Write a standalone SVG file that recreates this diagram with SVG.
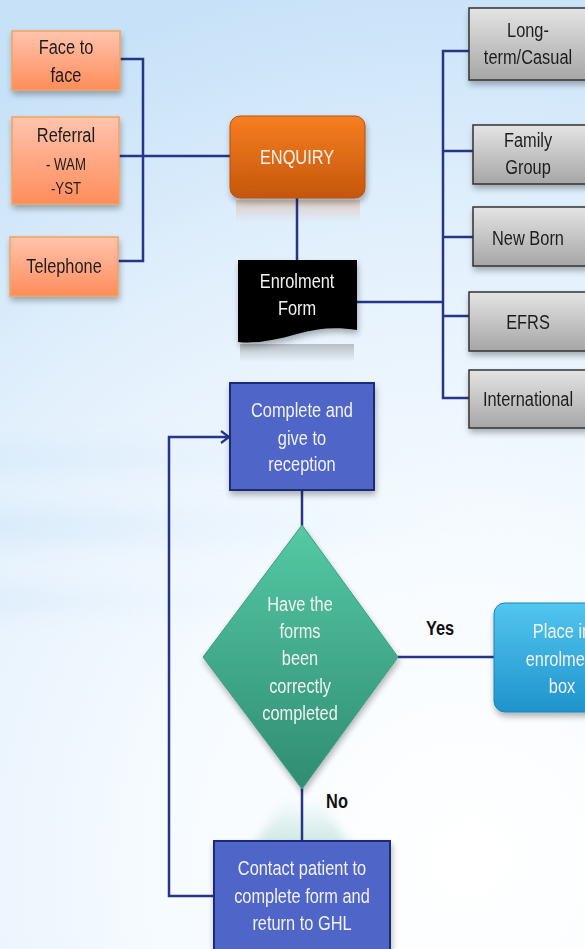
<svg xmlns="http://www.w3.org/2000/svg" width="585" height="949" viewBox="0 0 585 949">
  <defs>
    <radialGradient id="bg" cx="470" cy="860" r="900" gradientUnits="userSpaceOnUse">
      <stop offset="0" stop-color="#ffffff"/>
      <stop offset="0.35" stop-color="#f6fbff"/>
      <stop offset="0.7" stop-color="#e2f0fc"/>
      <stop offset="1" stop-color="#c6e1f8"/>
    </radialGradient>
    <linearGradient id="band" x1="0" y1="0" x2="1" y2="0">
      <stop offset="0" stop-color="#c4e0f8" stop-opacity="0.7"/>
      <stop offset="0.5" stop-color="#dcedfb" stop-opacity="0.3"/>
      <stop offset="1" stop-color="#ffffff" stop-opacity="0"/>
    </linearGradient>
    <linearGradient id="salmon" x1="0" y1="0" x2="0" y2="1">
      <stop offset="0" stop-color="#ffc4ae"/>
      <stop offset="1" stop-color="#ff8c5a"/>
    </linearGradient>
    <linearGradient id="orange" x1="0" y1="0" x2="0" y2="1">
      <stop offset="0" stop-color="#f77e22"/>
      <stop offset="1" stop-color="#c4570a"/>
    </linearGradient>
    <linearGradient id="orangeRefl" x1="0" y1="0" x2="0" y2="1">
      <stop offset="0" stop-color="#e08040" stop-opacity="0.3"/>
      <stop offset="1" stop-color="#e08040" stop-opacity="0"/>
    </linearGradient>
    <linearGradient id="grayRefl" x1="0" y1="0" x2="0" y2="1">
      <stop offset="0" stop-color="#707070" stop-opacity="0.4"/>
      <stop offset="1" stop-color="#707070" stop-opacity="0"/>
    </linearGradient>
    <linearGradient id="greenRefl" x1="0" y1="0" x2="0" y2="1">
      <stop offset="0" stop-color="#3aa585" stop-opacity="0"/>
      <stop offset="1" stop-color="#3aa585" stop-opacity="0.25"/>
    </linearGradient>
    <linearGradient id="gray" x1="0" y1="0" x2="0" y2="1">
      <stop offset="0" stop-color="#e4e4e4"/>
      <stop offset="1" stop-color="#a6a6a6"/>
    </linearGradient>
    <linearGradient id="green" x1="0" y1="0" x2="0" y2="1">
      <stop offset="0" stop-color="#55c9a4"/>
      <stop offset="1" stop-color="#2f8c72"/>
    </linearGradient>
    <linearGradient id="cyan" x1="0" y1="0" x2="0" y2="1">
      <stop offset="0" stop-color="#52c6ee"/>
      <stop offset="1" stop-color="#1f93cd"/>
    </linearGradient>
    <filter id="shadow" x="-20%" y="-20%" width="140%" height="150%">
      <feGaussianBlur in="SourceAlpha" stdDeviation="3"/>
      <feOffset dx="1" dy="4" result="b"/>
      <feComponentTransfer><feFuncA type="linear" slope="0.3"/></feComponentTransfer>
      <feMerge><feMergeNode/><feMergeNode in="SourceGraphic"/></feMerge>
    </filter>
    <filter id="soft" x="-10%" y="-100%" width="120%" height="300%">
      <feGaussianBlur stdDeviation="10"/>
    </filter>
    <filter id="haze" x="-30%" y="-30%" width="160%" height="160%">
      <feGaussianBlur stdDeviation="5"/>
    </filter>
    <marker id="chevron" markerWidth="12" markerHeight="14" refX="10" refY="7" orient="auto" markerUnits="userSpaceOnUse">
      <path d="M2,1 L10,7 L2,13" fill="none" stroke="#263587" stroke-width="2.2"/>
    </marker>
    <style>
      .lbl { font-family: "Liberation Sans", Arial, sans-serif; font-size: 21px; text-anchor: middle;
             transform-box: fill-box; transform-origin: center; transform: scaleX(0.78); }
      .dark { fill: #1e1e1e; }
      .light { fill: #f2f2f2; }
      .small { font-size: 17px; }
      .tag { font-weight: bold; fill: #111; }
      .wire { fill: none; stroke: #263587; stroke-width: 2.5; }
      .srcbox { fill: url(#salmon); stroke: #f5a25a; stroke-width: 1.5; }
      .catbox { fill: url(#gray); stroke: #333; stroke-width: 1.5; }
      .step { fill: #4f65c8; stroke: #1f2c78; stroke-width: 2; }
    </style>
  </defs>

  <!-- backdrop -->
  <rect width="585" height="949" fill="url(#bg)"/>
  <rect x="-20" y="445" width="620" height="26" fill="url(#band)" filter="url(#soft)" opacity="0.5"/>
  <rect x="-20" y="510" width="620" height="34" fill="url(#band)" filter="url(#soft)" opacity="0.6"/>
  <rect x="-20" y="590" width="440" height="22" fill="url(#band)" filter="url(#soft)" opacity="0.5"/>

  <!-- reflections -->
  <rect x="236" y="200" width="124" height="22" fill="url(#orangeRefl)"/>
  <rect x="240" y="344" width="114" height="18" fill="url(#grayRefl)"/>
  <path d="M286,800 L318,800 L350,845 L254,845 Z" fill="url(#greenRefl)" filter="url(#haze)"/>

  <!-- connectors -->
  <g id="connectors">
    <path class="wire" d="M120,59 H143 V261 H118"/>
    <path class="wire" d="M118,156 H230"/>
    <path class="wire" d="M297,198 V261"/>
    <path class="wire" d="M357,302 H443"/>
    <path class="wire" d="M469,51 H443 V398 H469"/>
    <path class="wire" d="M443,151 H473"/>
    <path class="wire" d="M443,237 H473"/>
    <path class="wire" d="M443,316 H469"/>
    <path class="wire" d="M302,490 V526"/>
    <path class="wire" d="M398,657 H495"/>
    <path class="wire" d="M302,788 V842"/>
    <path class="wire" d="M214,896 H169 V437 H229" marker-end="url(#chevron)"/>
  </g>

  <!-- enquiry sources -->
  <g id="face-to-face" filter="url(#shadow)">
    <rect class="srcbox" x="12" y="31" width="108" height="59"/>
    <text class="lbl dark" x="66" y="54">Face to</text>
    <text class="lbl dark" x="66" y="82">face</text>
  </g>
  <g id="referral" filter="url(#shadow)">
    <rect class="srcbox" x="12" y="117" width="107" height="87"/>
    <text class="lbl dark" x="66" y="142">Referral</text>
    <text class="lbl dark small" x="66" y="170">- WAM</text>
    <text class="lbl dark small" x="66" y="194">-YST</text>
  </g>
  <g id="telephone" filter="url(#shadow)">
    <rect class="srcbox" x="10" y="237" width="108" height="59"/>
    <text class="lbl dark" x="64" y="273">Telephone</text>
  </g>

  <g id="enquiry" filter="url(#shadow)">
    <rect x="230" y="116" width="135" height="82" rx="10" fill="url(#orange)" stroke="#b85008" stroke-width="1"/>
    <text class="lbl light" x="297" y="164">ENQUIRY</text>
  </g>

  <g id="enrolment-form" filter="url(#shadow)">
    <path d="M238,260 H357 V330 C336,327 318,328 297,334 C276,340 256,344 238,342 Z" fill="#000"/>
    <text class="lbl light" x="297" y="288">Enrolment</text>
    <text class="lbl light" x="297" y="315">Form</text>
  </g>

  <!-- patient categories -->
  <g id="long-term" filter="url(#shadow)">
    <rect class="catbox" x="469" y="8" width="120" height="72"/>
    <text class="lbl dark" x="528" y="37">Long-</text>
    <text class="lbl dark" x="528" y="64">term/Casual</text>
  </g>
  <g id="family-group" filter="url(#shadow)">
    <rect class="catbox" x="473" y="125" width="116" height="59"/>
    <text class="lbl dark" x="528" y="147">Family</text>
    <text class="lbl dark" x="528" y="174">Group</text>
  </g>
  <g id="new-born" filter="url(#shadow)">
    <rect class="catbox" x="473" y="207" width="116" height="59"/>
    <text class="lbl dark" x="528" y="245">New Born</text>
  </g>
  <g id="efrs" filter="url(#shadow)">
    <rect class="catbox" x="469" y="292" width="120" height="59"/>
    <text class="lbl dark" x="528" y="329">EFRS</text>
  </g>
  <g id="international" filter="url(#shadow)">
    <rect class="catbox" x="469" y="370" width="120" height="58"/>
    <text class="lbl dark" x="528" y="406">International</text>
  </g>

  <!-- processing -->
  <g id="complete" filter="url(#shadow)">
    <rect class="step" x="230" y="383" width="144" height="107"/>
    <text class="lbl light" x="302" y="417">Complete and</text>
    <text class="lbl light" x="302" y="445">give to</text>
    <text class="lbl light" x="302" y="471">reception</text>
  </g>

  <g id="check" filter="url(#shadow)">
    <path d="M302,525 L398,657 L302,789 L203,657 Z" fill="url(#green)" stroke="#3a9e80" stroke-width="1"/>
    <text class="lbl light" x="300" y="611">Have the</text>
    <text class="lbl light" x="300" y="638">forms</text>
    <text class="lbl light" x="300" y="665">been</text>
    <text class="lbl light" x="300" y="693">correctly</text>
    <text class="lbl light" x="300" y="720">completed</text>
  </g>

  <text class="lbl tag" x="440" y="635">Yes</text>
  <text class="lbl tag" x="337" y="808">No</text>

  <g id="enrolment-box" filter="url(#shadow)">
    <rect x="494" y="603" width="140" height="109" rx="11" fill="url(#cyan)" stroke="#1a86bd" stroke-width="1"/>
    <text class="lbl light" x="562" y="638">Place in</text>
    <text class="lbl light" x="562" y="666">enrolment</text>
    <text class="lbl light" x="562" y="693">box</text>
  </g>

  <g id="contact" filter="url(#shadow)">
    <rect class="step" x="214" y="841" width="176" height="110"/>
    <text class="lbl light" x="302" y="875">Contact patient to</text>
    <text class="lbl light" x="302" y="903">complete form and</text>
    <text class="lbl light" x="302" y="930">return to GHL</text>
  </g>
</svg>
